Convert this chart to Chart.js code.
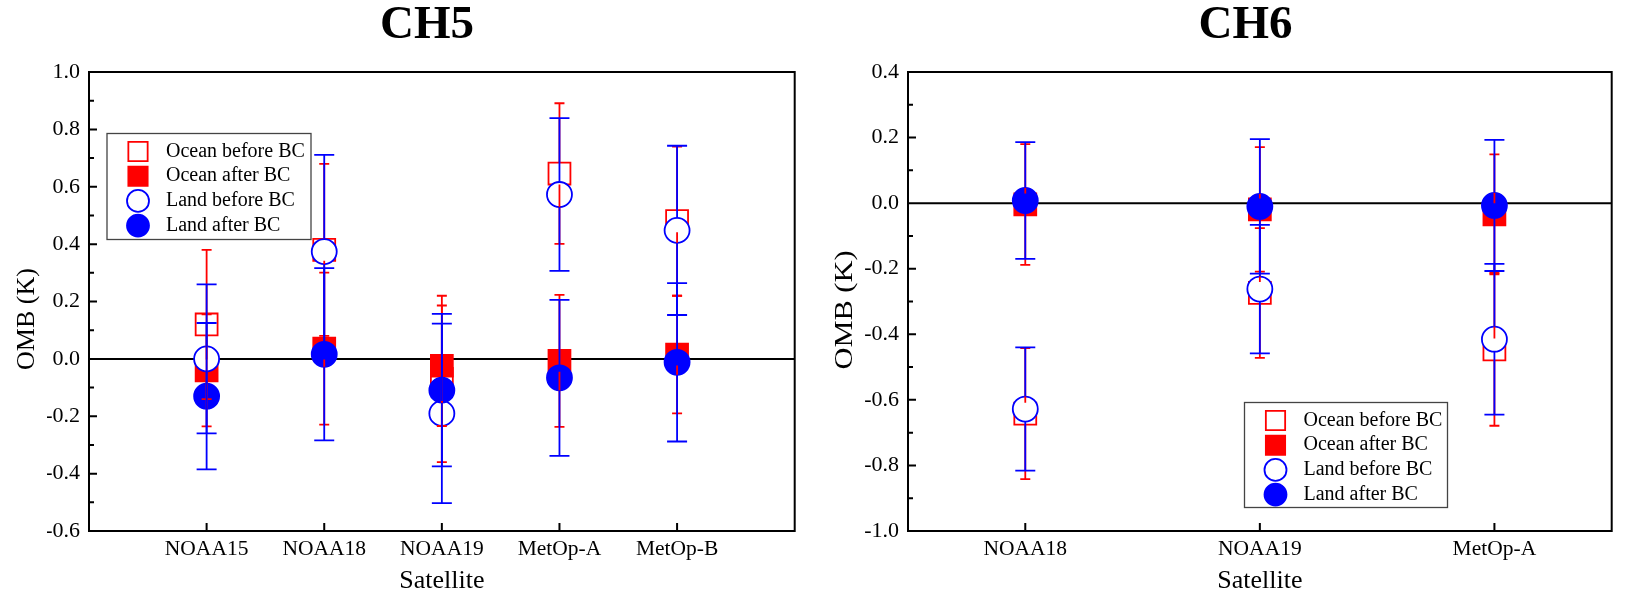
<!DOCTYPE html>
<html>
<head>
<meta charset="utf-8">
<script src="https://cdn.jsdelivr.net/npm/chart.js@4.4.1/dist/chart.umd.min.js"></script>
<style>
  html, body { margin: 0; padding: 0; background: #fff; }
  body { width: 1629px; height: 597px; position: relative; overflow: hidden; }
  .panel { position: absolute; top: 0; }
  #wrap5 { left: 0; }
  #wrap6 { left: 812px; }
</style>
</head>
<body>
<div class="panel" id="wrap5"><canvas id="ch5" width="812" height="597"></canvas></div>
<div class="panel" id="wrap6"><canvas id="ch6" width="817" height="597"></canvas></div>
<script>
// ---- data ----
const seriesNames = ['Ocean before BC', 'Ocean after BC', 'Land before BC', 'Land after BC'];

// CH5
const ch5Sats = ['NOAA15', 'NOAA18', 'NOAA19', 'MetOp-A', 'MetOp-B'];
const ch5OceanBefore = [0.12, 0.38, -0.07, 0.646, 0.48];
const ch5OceanBeforeSd = [0.26, 0.30, 0.29, 0.245, 0.26];
const ch5OceanAfter = [-0.04, 0.036, -0.024, -0.007, 0.015];
const ch5OceanAfterSd = [0.195, 0.265, 0.21, 0.23, 0.205];
const ch5LandBefore = [0.0, 0.374, -0.19, 0.573, 0.448];
const ch5LandBeforeSd = [0.26, 0.337, 0.313, 0.266, 0.295];
const ch5LandAfter = [-0.13, 0.016, -0.109, -0.066, -0.012];
const ch5LandAfterSd = [0.255, 0.30, 0.266, 0.272, 0.276];
const ch5Ticks = [-0.6, 1.0];

// CH6
const ch6Sats = ['NOAA18', 'NOAA19', 'MetOp-A'];
const ch6OceanBefore = [-0.642, -0.274, -0.446];
const ch6OceanBeforeSd = [0.2, 0.198, 0.233];
const ch6OceanAfter = [-0.004, -0.019, -0.034];
const ch6OceanAfterSd = [0.184, 0.19, 0.183];
const ch6LandBefore = [-0.628, -0.262, -0.415];
const ch6LandBeforeSd = [0.188, 0.196, 0.23];
const ch6LandAfter = [0.008, -0.01, -0.007];
const ch6LandAfterSd = [0.178, 0.205, 0.2];
const ch6Ticks = [-1.0, 0.4];

const FONT = "'Liberation Serif', 'Times New Roman', serif";
const RED = '#ff0000';
const BLUE = '#0000ff';

// ---- plugins ----
// error bars start at the marker edge (Origin style), red ones first, blue on top
const errorBars = {
  id: 'errorBars',
  afterDatasetsDraw(chart) {
    const {ctx} = chart;
    const xs = chart.scales.x, ys = chart.scales.y;
    ctx.save();
    chart.data.datasets.forEach(ds => {
      ctx.strokeStyle = ds.pointBorderColor;
      ctx.lineWidth = 1.8;
      const gap = ds.pointStyle === 'rect' ? ds.pointRadius * Math.SQRT1_2 : ds.pointRadius;
      ds.data.forEach((p, i) => {
        const sd = ds.sd[i];
        const x = xs.getPixelForValue(p.x);
        const y = ys.getPixelForValue(p.y);
        const yTop = ys.getPixelForValue(p.y + sd);
        const yBot = ys.getPixelForValue(p.y - sd);
        const c = ds.cap / 2;
        ctx.beginPath();
        if (yTop < y - gap) { ctx.moveTo(x, y - gap); ctx.lineTo(x, yTop); }
        if (yBot > y + gap) { ctx.moveTo(x, y + gap); ctx.lineTo(x, yBot); }
        ctx.moveTo(x - c, yTop); ctx.lineTo(x + c, yTop);
        ctx.moveTo(x - c, yBot); ctx.lineTo(x + c, yBot);
        ctx.stroke();
      });
    });
    ctx.restore();
  }
};

// box frame, zero line, inward ticks, rotated y title
const frame = {
  id: 'frame',
  beforeDatasetsDraw(chart) {
    const {ctx, chartArea: a} = chart;
    const xs = chart.scales.x, ys = chart.scales.y;
    ctx.save();
    ctx.strokeStyle = '#000';
    ctx.lineWidth = 2;
    ctx.beginPath();
    const y0 = ys.getPixelForValue(0);
    ctx.moveTo(a.left, y0); ctx.lineTo(a.right, y0);
    const n = Math.round((ys.max - ys.min) / 0.1);
    for (let k = 0; k <= n; k++) {
      const py = ys.getPixelForValue(ys.min + k * 0.1);
      ctx.moveTo(a.left, py); ctx.lineTo(a.left + (k % 2 ? 5 : 8), py);
    }
    xs.ticks.forEach(t => {
      const px = xs.getPixelForValue(t.value);
      ctx.moveTo(px, a.bottom); ctx.lineTo(px, a.bottom - 8);
    });
    ctx.stroke();
    ctx.strokeRect(a.left, a.top, a.right - a.left, a.bottom - a.top);
    ctx.restore();
  },
  afterDraw(chart, args, opts) {
    const {ctx} = chart;
    ctx.save();
    ctx.translate(opts.x, opts.y);
    ctx.rotate(-Math.PI / 2);
    ctx.scale(opts.stretch, 1);
    ctx.font = `${opts.size}px ${FONT}`;
    ctx.fillStyle = '#000';
    ctx.textAlign = 'center';
    ctx.textBaseline = 'middle';
    ctx.fillText(opts.text, 0, 0);
    ctx.restore();
  }
};

// boxed legend placed inside the plot
const boxLegend = {
  id: 'boxLegend',
  afterDraw(chart, args, opts) {
    const {ctx} = chart;
    const {left, top, width, height} = opts;
    ctx.save();
    ctx.fillStyle = '#fff';
    ctx.fillRect(left, top, width, height);
    ctx.strokeStyle = '#444';
    ctx.lineWidth = 1.3;
    ctx.strokeRect(left, top, width, height);
    ctx.font = `20px ${FONT}`;
    ctx.textBaseline = 'middle';
    chart.data.datasets.forEach((ds, i) => {
      const cy = top + 18 + i * 24.7;
      ctx.fillStyle = ds.pointBackgroundColor;
      ctx.strokeStyle = ds.pointBorderColor;
      ctx.lineWidth = ds.pointBorderWidth;
      Chart.helpers.drawPoint(ctx, {
        pointStyle: ds.pointStyle, rotation: 0,
        radius: ds.pointRadius * 0.88, borderWidth: ds.pointBorderWidth
      }, left + 31, cy);
      ctx.fillStyle = '#000';
      ctx.fillText(ds.label, left + 59, cy);
    });
    ctx.restore();
  }
};

// ---- chart builder ----
function series(label, means, sds, style, fill, color, radius, cap, order) {
  return {
    label,
    data: means.map((v, i) => ({x: i + 1, y: v})),
    sd: sds,
    cap,
    order,
    showLine: false,
    pointStyle: style,
    pointRadius: radius,
    pointHoverRadius: radius,
    pointBackgroundColor: fill,
    pointBorderColor: color,
    pointBorderWidth: 1.8
  };
}

function makeChart(id, title, sats, sets, yRange, layout) {
  return new Chart(document.getElementById(id), {
    type: 'scatter',
    data: {
      datasets: [
        series(seriesNames[0], sets[0], sets[1], 'rect', '#fff', RED, 15.5, 10, 4),
        series(seriesNames[1], sets[2], sets[3], 'rect', RED, RED, 15.5, 10, 3),
        series(seriesNames[2], sets[4], sets[5], 'circle', '#fff', BLUE, 12.5, 20, 2),
        series(seriesNames[3], sets[6], sets[7], 'circle', BLUE, BLUE, 12.5, 20, 1)
      ]
    },
    options: {
      responsive: false,
      animation: false,
      events: [],
      devicePixelRatio: 1,
      layout: {padding: {left: layout.padLeft, right: layout.padRight, top: 0, bottom: 0}},
      scales: {
        x: {
          type: 'linear',
          min: layout.xMin,
          max: layout.xMax,
          grid: {display: false, drawTicks: false},
          border: {display: false},
          afterBuildTicks: s => { s.ticks = sats.map((n, i) => ({value: i + 1})); },
          afterFit: s => { s.height = 66; },
          ticks: {
            autoSkip: false,
            maxRotation: 0,
            padding: 5.5,
            color: '#000',
            font: {family: FONT, size: 21.5},
            callback: v => sats[v - 1]
          },
          title: {
            display: true,
            text: 'Satellite',
            color: '#000',
            padding: {top: 0, bottom: 0},
            font: {family: FONT, size: 26}
          }
        },
        y: {
          min: yRange[0],
          max: yRange[1],
          grid: {display: false, drawTicks: false},
          border: {display: false},
          afterFit: s => { s.width = layout.yWidth; },
          ticks: {
            stepSize: 0.2,
            padding: 9,
            color: '#000',
            font: {family: FONT, size: 22},
            callback: v => (Math.abs(v) < 1e-9 ? 0 : v).toFixed(1)
          }
        }
      },
      plugins: {
        legend: {display: false},
        tooltip: {enabled: false},
        title: {
          display: true,
          text: title,
          color: '#000',
          font: {family: FONT, size: 47, weight: 'bold', lineHeight: 1.1},
          padding: {top: 0, bottom: 20.3}
        },
        frame: layout.yTitle,
        boxLegend: layout.legend
      }
    },
    plugins: [frame, errorBars, boxLegend]
  });
}

makeChart('ch5', 'CH5', ch5Sats,
  [ch5OceanBefore, ch5OceanBeforeSd, ch5OceanAfter, ch5OceanAfterSd,
   ch5LandBefore, ch5LandBeforeSd, ch5LandAfter, ch5LandAfterSd],
  ch5Ticks,
  {
    padLeft: 47, padRight: 5, yWidth: 42, xMin: 0, xMax: 6,
    yTitle: {text: 'OMB (K)', x: 27, y: 319, size: 26, stretch: 1},
    legend: {left: 107, top: 133.5, width: 204, height: 106}
  });

makeChart('ch6', 'CH6', ch6Sats,
  [ch6OceanBefore, ch6OceanBeforeSd, ch6OceanAfter, ch6OceanAfterSd,
   ch6LandBefore, ch6LandBeforeSd, ch6LandAfter, ch6LandAfterSd],
  ch6Ticks,
  {
    padLeft: 53, padRight: 3, yWidth: 43, xMin: 0.5, xMax: 3.5,
    yTitle: {text: 'OMB (K)', x: 33, y: 310, size: 26, stretch: 1.17},
    legend: {left: 432.5, top: 402.5, width: 203, height: 105}
  });
</script>
</body>
</html>
